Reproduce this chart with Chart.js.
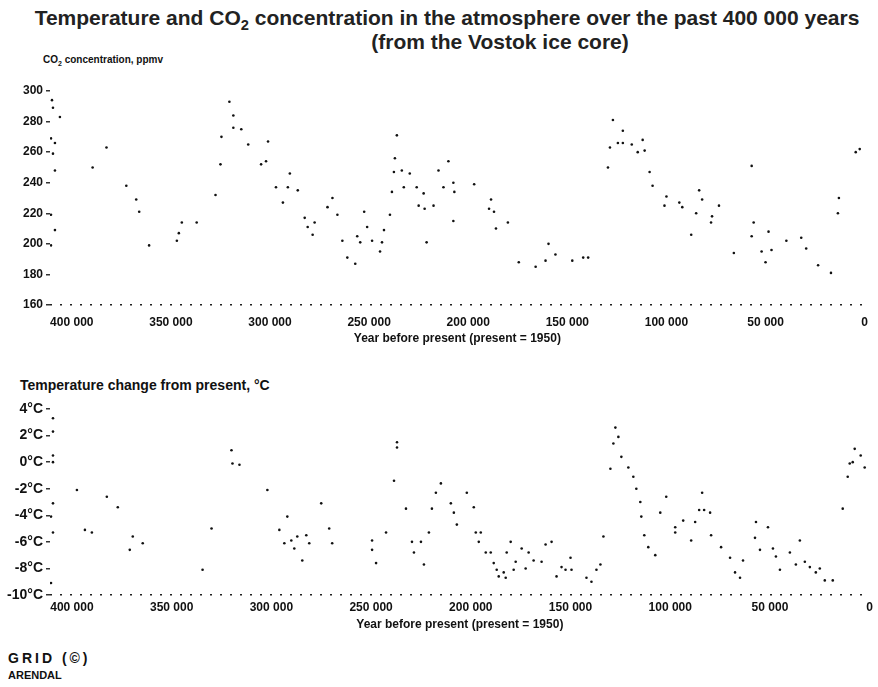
<!DOCTYPE html>
<html>
<head>
<meta charset="utf-8">
<script src="https://cdn.jsdelivr.net/npm/chart.js@4.4.1/dist/chart.umd.min.js"></script>
<style>
	body { margin: 0; background: #fff; width: 878px; height: 687px; overflow: hidden; position: relative; font-family: 'Liberation Sans', Arial, sans-serif; color: #111; }
	.txt { position: absolute; white-space: nowrap; }
	.title { left: 0; width: 878px; text-align: center; font-size: 21px; font-weight: bold; color: #222; }
	canvas { position: absolute; left: 0; }
	sub { font-size: 0.7em; }
</style>
</head>
<body>
<div class="txt title" style="top: 6px; left: 8px;">Temperature and CO<sub>2</sub> concentration in the atmosphere over the past 400 000 years</div>
<div class="txt title" style="top: 30px; left: 61px;">(from the Vostok ice core)</div>
<div class="txt" style="left: 43px; top: 54px; font-size: 10px; font-weight: bold;">CO<sub>2</sub> concentration, ppmv</div>
<div class="txt" style="left: 20px; top: 377px; font-size: 14px; font-weight: bold;">Temperature change from present, °C</div>
<div class="txt" style="left: 8px; top: 650px; font-size: 14px; font-weight: bold; letter-spacing: 3px;">GRID (©)</div>
<div class="txt" style="left: 8px; top: 669px; font-size: 11px; font-weight: bold;">ARENDAL</div>
<canvas id="co2-chart" width="878" height="275" style="top: 80px"></canvas>
<canvas id="temp-chart" width="878" height="245" style="top: 395px"></canvas>
<script>
// tick labels
const yearTicks = [400000, 350000, 300000, 250000, 200000, 150000, 100000, 50000, 0];
const co2Ticks = [160, 180, 200, 220, 240, 260, 280, 300];
const tempTicks = [4, 2, 0, -2, -4, -6, -8, -10];

// CO2 concentration (ppmv)
const co2Years = [
	410000, 409500, 406000, 410500, 408500, 409500, 408500, 408500, 410500, 410500,
	389500, 382500, 372500, 367500, 366000, 361000, 347000, 346000, 344500, 337000,
	327500, 325000, 324500, 320500, 318500, 318500, 314500, 311000, 304500, 302000,
	301000, 297000, 293500, 291000, 290000, 286000, 282500, 281000, 278500, 277500,
	271000, 268500, 266000, 263500, 261000, 257000, 256000, 254500, 252500, 251000,
	248500, 244500, 243500, 242500, 239500, 238500, 237500, 237000, 236000, 233500,
	232500, 229500, 226000, 225000, 222500, 222000, 221000, 217500, 215000, 212500,
	210000, 207500, 207000, 207500, 197000, 189500, 188500, 187000, 186000, 180000,
	174500, 166000, 161000, 159500, 156000, 147500, 142000, 139500, 129500, 128500,
	127000, 124500, 122000, 122000, 117500, 114500, 112000, 111000, 108500, 107000,
	101000, 100000, 93500, 92000, 87500, 85000, 83500, 82000, 77500, 77000,
	73500, 66000, 57000, 56000, 57000, 52000, 50000, 48500, 47000, 39500,
	32000, 29500, 23500, 17000, 13500, 13000, 4500, 2500
];
const co2Values = [
	294, 289, 283, 269, 266, 259, 248, 209, 219, 199,
	250, 263, 238, 229, 221, 199, 202, 207, 214, 214,
	232, 252, 270, 293, 284, 276, 275, 265, 252, 254,
	267, 237, 227, 237, 246, 235, 217, 211, 206, 214,
	224, 230, 219, 202, 191, 187, 205, 201, 221, 211,
	202, 195, 201, 209, 219, 234, 247, 256, 271, 248,
	237, 246, 237, 225, 233, 223, 201, 225, 248, 237,
	254, 240, 234, 215, 239, 223, 229, 221, 210, 214,
	188, 185, 189, 200, 193, 189, 191, 191, 250, 263,
	281, 266, 274, 266, 265, 260, 268, 261, 247, 238,
	225, 231, 227, 224, 206, 220, 235, 229, 214, 218,
	225, 194, 251, 214, 205, 195, 188, 208, 196, 202,
	204, 197, 186, 181, 220, 230, 260, 262
];

// temperature change from present (°C)
const tempYears = [
	409500, 409500, 409500, 409500, 410500, 409500, 409500, 410500, 397500, 393500,
	390000, 382500, 377000, 371000, 369500, 364500, 334500, 330000, 320000, 319500,
	316000, 302000, 296000, 293500, 292000, 290000, 288500, 287000, 284500, 282500,
	281000, 275000, 271000, 269500, 249500, 249500, 247500, 242500, 238500, 237000,
	237000, 232500, 229500, 228500, 225000, 223500, 221000, 219500, 217500, 215000,
	210000, 208500, 207000, 202000, 198500, 197500, 195000, 196000, 192500, 190000,
	188500, 187000, 186000, 183500, 182500, 182000, 180000, 177500, 178500, 174500,
	172500, 171000, 168500, 164500, 162500, 159500, 157000, 154500, 152500, 150000,
	149500, 142000, 139500, 137000, 135000, 133500, 130000, 128500, 127500, 126000,
	124500, 121000, 118500, 117000, 115000, 114500, 113000, 111000, 107500, 105000,
	102000, 97500, 97500, 93500, 89500, 87500, 85500, 84000, 83000, 80000,
	79500, 74500, 70000, 67500, 65000, 63500, 57500, 57000, 55000, 51000,
	48500, 47000, 45000, 40000, 37000, 35000, 32500, 30000, 27000, 25000,
	22500, 18500, 13500, 11000, 10000, 8500, 7500, 4500, 2500
];
const tempValues = [
	3.3, 2.3, 0.5, 0, -4.1, -3.1, -5.3, -9.1, -2.1, -5.1,
	-5.3, -2.6, -3.4, -6.6, -5.6, -6.1, -8.1, -5.0, 0.9, -0.1,
	-0.2, -2.1, -5.1, -6.1, -4.1, -5.9, -6.5, -5.6, -7.4, -5.5,
	-6.1, -3.1, -5.0, -6.1, -5.9, -6.6, -7.6, -5.3, -1.4, 1.1,
	1.5, -3.5, -6.0, -6.8, -6.0, -7.7, -5.3, -3.5, -2.3, -1.6,
	-3.1, -3.8, -4.7, -2.3, -3.4, -5.3, -5.3, -6.0, -6.8, -6.8,
	-7.6, -8.1, -8.6, -8.3, -8.7, -6.8, -6.0, -7.5, -8.1, -6.5,
	-8.0, -6.8, -7.4, -7.5, -6.2, -6.0, -8.6, -7.9, -8.1, -7.2,
	-8.1, -8.7, -9.0, -8.1, -7.7, -5.6, -0.5, 1.4, 2.6, 1.9,
	0.4, -0.4, -1.1, -2.0, -3.0, -4.1, -5.5, -6.4, -7.0, -3.8,
	-2.6, -4.9, -5.3, -4.4, -5.9, -4.5, -3.6, -2.3, -3.6, -3.8,
	-5.5, -6.4, -7.2, -8.3, -8.7, -7.4, -5.7, -4.5, -6.6, -4.9,
	-6.5, -7.1, -8.1, -6.8, -7.7, -5.9, -7.5, -7.9, -8.3, -8.0,
	-8.9, -8.9, -3.5, -1.1, -0.1, 0.0, 1.0, 0.5, -0.4
];

Chart.defaults.font.family = "'Liberation Sans', Arial, sans-serif";
Chart.defaults.color = '#111';

const fmtYear = (v) => v === 0 ? '0' : String(v).replace(/\B(?=(\d{3})+(?!\d))/g, ' ');

function makeOptions(yMin, yMax, yTicks, yFont, yLabel, pad) {
	return {
		responsive: false,
		animation: false,
		layout: { padding: { top: pad.top, right: 8, left: 0, bottom: 0 } },
		plugins: { legend: { display: false }, tooltip: { enabled: false } },
		scales: {
			x: {
				type: 'linear',
				reverse: true,
				min: 0,
				max: 411000,
				afterBuildTicks: (scale) => { scale.ticks = yearTicks.map(v => ({ value: v })); },
				afterFit: (scale) => { scale.height = pad.axis; },
				grid: { display: false, drawTicks: false },
				border: { display: false },
				ticks: {
					font: { size: 12, weight: 'bold' },
					padding: pad.tick,
					maxRotation: 0,
					callback: fmtYear
				},
				title: {
					display: true,
					text: 'Year before present (present = 1950)',
					font: { size: 12, weight: 'bold' },
					padding: { top: 0, bottom: pad.title }
				}
			},
			y: {
				min: yMin,
				max: yMax,
				afterBuildTicks: (scale) => { scale.ticks = yTicks.map(v => ({ value: v })); },
				afterFit: (scale) => { scale.width = 50; },
				// only the bottom grid line is drawn: the broken baseline of the scan
				grid: {
					drawOnChartArea: true,
					drawTicks: true,
					tickLength: 4,
					tickColor: '#333',
					lineWidth: 1.5,
					color: (c) => c.tick && c.tick.value === yMin ? '#222' : 'rgba(0,0,0,0)'
				},
				border: { display: false, dash: [2, 8] },
				ticks: {
					font: { size: yFont, weight: 'bold' },
					padding: 3,
					callback: yLabel
				}
			}
		}
	};
}

function toPoints(xs, ys) {
	return xs.map((x, i) => ({ x: x, y: ys[i] }));
}

const dotStyle = {
	showLine: false,
	pointRadius: 1.3,
	pointBackgroundColor: '#111',
	pointBorderWidth: 0
};

const ctxCo2 = document.getElementById('co2-chart').getContext('2d');
const co2Chart = new Chart(ctxCo2, {
	type: 'scatter',
	data: {
		datasets: [Object.assign({ label: 'CO2', data: toPoints(co2Years, co2Values) }, dotStyle)]
	},
	options: makeOptions(160, 300, co2Ticks, 12, (v) => v, { top: 11, axis: 50, tick: 10, title: 9 })
});

const ctxTemp = document.getElementById('temp-chart').getContext('2d');
const tempChart = new Chart(ctxTemp, {
	type: 'scatter',
	data: {
		datasets: [Object.assign({ label: 'Temperature', data: toPoints(tempYears, tempValues) }, dotStyle)]
	},
	options: makeOptions(-10, 4, tempTicks, 14, (v) => v + '°C', { top: 14, axis: 45, tick: 5, title: 8 })
});
</script>
</body>
</html>
